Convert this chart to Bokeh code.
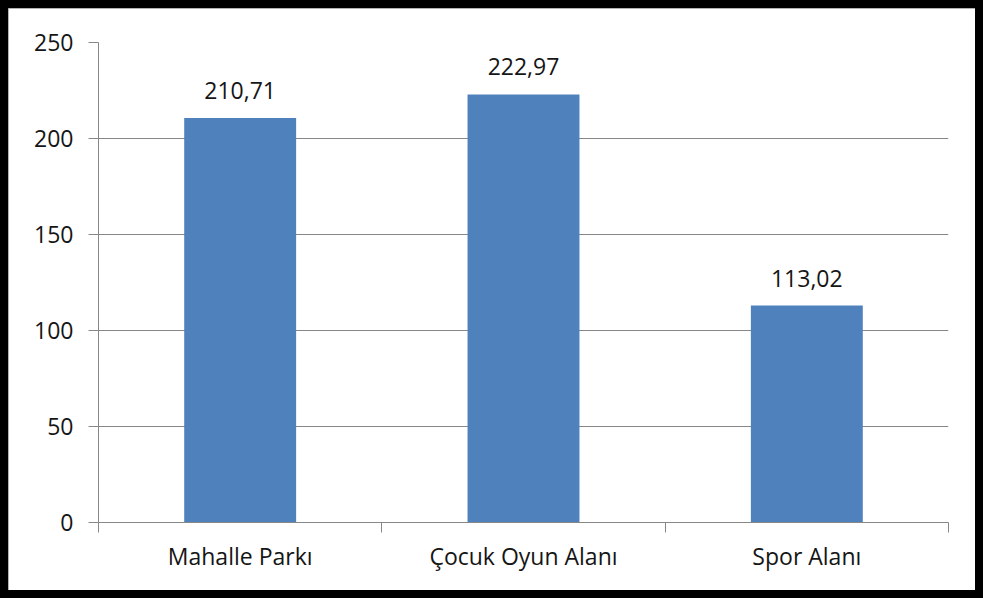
from bokeh.plotting import figure
from bokeh.layouts import column
from bokeh.models import FixedTicker, Range1d, ColumnDataSource, LabelSet
from bokeh.core.properties import value
from bokeh.embed import file_html
from bokeh.resources import INLINE

categories = ["Mahalle Parkı", "Çocuk Oyun Alanı", "Spor Alanı"]
values = [210.71, 222.97, 113.02]
value_labels = ["210,71", "222,97", "113,02"]
y_ticks = [0, 50, 100, 150, 200, 250]

FONT = "Open Sans"
FS = "23px"
BAR = "#4F81BD"
GRID = "#878787"
TXT = "#151515"

xs = [i + 0.5 for i in range(len(categories))]
src = ColumnDataSource(dict(x=xs, top=values, lab=value_labels))

p = figure(width=967, height=582, output_backend="svg", toolbar_location=None,
           x_range=Range1d(0, len(categories)), y_range=Range1d(0, 250),
           min_border_left=90, min_border_right=27, min_border_top=34, min_border_bottom=68)
p.outline_line_color = None
p.background_fill_color = "white"
p.border_fill_color = "white"

p.vbar(x="x", top="top", width=0.395, bottom=0, source=src, color=BAR, line_color=None)

p.add_layout(LabelSet(x="x", y="top", text="lab", source=src, text_align="center",
                      text_baseline="bottom", y_offset=19, text_font=value(FONT),
                      text_font_size=FS, text_color=TXT))

# y axis
p.yaxis.ticker = FixedTicker(ticks=y_ticks)
p.yaxis.axis_line_color = GRID
p.yaxis.major_tick_line_color = GRID
p.yaxis.major_tick_out = 10
p.yaxis.major_tick_in = 0
p.yaxis.minor_tick_line_color = None
p.yaxis.major_label_text_font = FONT
p.yaxis.major_label_text_font_size = FS
p.yaxis.major_label_text_color = TXT
p.yaxis.major_label_standoff = 15

# x axis
p.xaxis.ticker = FixedTicker(ticks=xs, minor_ticks=list(range(len(categories) + 1)))
p.xaxis.major_label_overrides = {x: c for x, c in zip(xs, categories)}
p.xaxis.axis_line_color = GRID
p.xaxis.major_tick_line_color = None
p.xaxis.major_tick_out = 0
p.xaxis.major_tick_in = 0
p.xaxis.minor_tick_line_color = GRID
p.xaxis.minor_tick_out = 10
p.xaxis.minor_tick_in = 0
p.xaxis.major_label_text_font = FONT
p.xaxis.major_label_text_font_size = FS
p.xaxis.major_label_text_color = TXT
p.xaxis.major_label_standoff = 7

p.xgrid.grid_line_color = None
p.ygrid.grid_line_color = GRID
p.ygrid.ticker = FixedTicker(ticks=y_ticks)

layout = column(p, styles={"border": "8px solid black", "background-color": "white",
                           "box-shadow": "inset 0 0 0 1px #9a9a9a"})

open("out.html", "w").write(file_html(layout, INLINE))
